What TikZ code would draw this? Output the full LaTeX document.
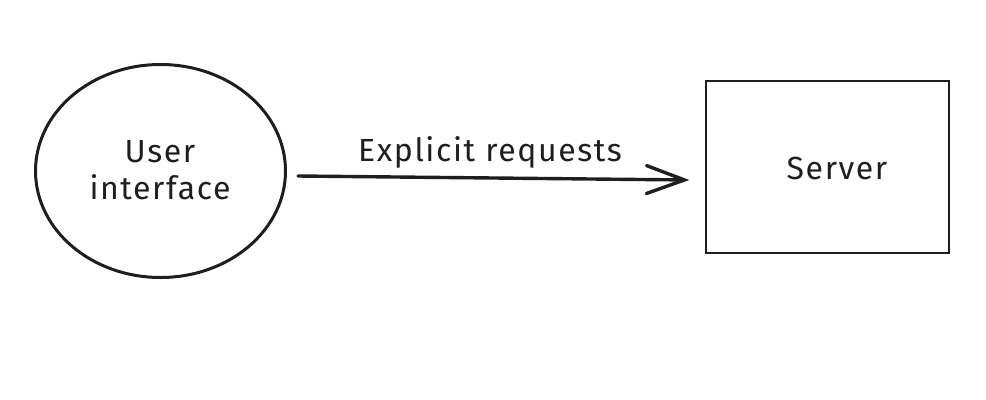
\documentclass[tikz,border=0pt]{standalone}
\usepackage{fontspec}
\setmainfont{Fira Sans}[LetterSpace=5]
\usetikzlibrary{arrows.meta,shapes.geometric,calc}
\definecolor{ink}{HTML}{1E1E1E}
\tikzset{
  lbl/.style={text=ink, font=\fontsize{24}{28}\selectfont, align=center, inner sep=0pt},
  uishape/.style={draw=ink, ellipse, line width=3pt*0.75, minimum width=250*0.75pt, minimum height=213*0.75pt, inner sep=0pt},
  srvshape/.style={draw=ink, rectangle, line width=1.3pt*0.75, minimum width=243*0.75pt, minimum height=172*0.75pt, inner sep=0pt},
  conn/.style={draw=ink, line width=3.4pt*0.75, line cap=round, -{Straight Barb[length=38*0.75pt, width=28*0.75pt, line cap=round]}}
}
\begin{document}
\begin{tikzpicture}[x=0.75pt,y=-0.75pt]
\useasboundingbox (0,0) rectangle (986,400);
\node[uishape] (ui) at (160.5,171) {};
\node[lbl] (uit) at (160,170) {User\\interface};
\node[srvshape] (srv) at (827.5,167) {};
\node[lbl] (srvt) at (837,168) {Server};
\coordinate (a1) at ($(ui.east)+(11,5)$);
\coordinate (a2) at ($(srv.west)+(-16,13)$);
\draw[conn] (a1) -- (a2);
\node[lbl] (el) at (490,152) {Explicit requests};
\end{tikzpicture}
\end{document}
